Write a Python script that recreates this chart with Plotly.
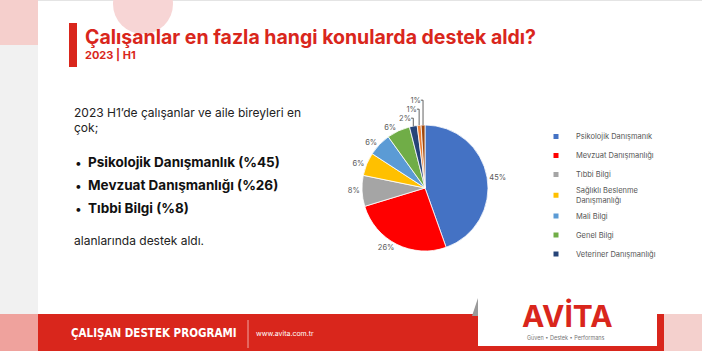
import plotly.graph_objects as go

# ---- data ----
categories = ["Psikolojik Danışmanık", "Mevzuat Danışmanlığı", "Tıbbi Bilgi",
              "Sağlıklı Beslenme Danışmanlığı", "Mali Bilgi", "Genel Bilgi",
              "Veteriner Danışmanlığı", "Diğer A", "Diğer B"]
values = [45, 26, 8, 6, 6, 6, 2, 1, 1]
colors = ["#4472C4", "#FF0000", "#A5A5A5", "#FFC000", "#5B9BD5", "#70AD47",
          "#264478", "#ED7D31", "#9E480E"]
legend_labels = ["Psikolojik Danışmanık", "Mevzuat Danışmanlığı", "Tıbbi Bilgi",
                 "Sağlıklı Beslenme<br>Danışmanlığı", "Mali Bilgi", "Genel Bilgi",
                 "Veteriner Danışmanlığı"]

W, H = 702, 351
RED = "#D9261C"
FONT = "Inter, Roboto, sans-serif"
COND = "DejaVu Sans Condensed, Liberation Sans Narrow, Liberation Sans, sans-serif"


def px(x):
    return x / W


def py(y):
    return 1 - y / H


fig = go.Figure()

# pie
cx, cy, r = 425, 188, 63
fig.add_trace(go.Pie(
    labels=categories, values=values, sort=False, direction="clockwise", rotation=0,
    marker=dict(colors=colors, line=dict(color="white", width=0.8)),
    text=[f"{v}%" for v in values], textinfo="text", textposition="outside",
    outsidetextfont=dict(size=7.5, color="#595959", family=FONT),
    domain=dict(x=[px(cx - r), px(cx + r)], y=[py(cy + r), py(cy - r)]),
    showlegend=False, hoverinfo="label+percent",
))

# legend entries (first seven categories)
for i, lab in enumerate(legend_labels):
    fig.add_trace(go.Scatter(
        x=[None], y=[None], mode="markers", name=lab, legendgroup=f"g{i}",
        marker=dict(symbol="square", size=5, color=colors[i]),
    ))

shapes = []
annotations = []

# slide surroundings
shapes.append(dict(type="rect", xref="paper", yref="paper", x0=0, x1=px(38), y0=0, y1=1,
                   fillcolor="#F1F1F1", line_width=0, layer="below"))
shapes.append(dict(type="rect", xref="paper", yref="paper", x0=0, x1=px(38), y0=py(45), y1=1,
                   fillcolor="#F5CFCC", line_width=0, layer="below"))
shapes.append(dict(type="rect", xref="paper", yref="paper", x0=0, x1=px(38), y0=0, y1=py(314),
                   fillcolor="#EFA29D", line_width=0, layer="below"))
shapes.append(dict(type="rect", xref="paper", yref="paper", x0=px(38), x1=1, y0=py(1), y1=1,
                   fillcolor="#E4E4E4", line_width=0, layer="below"))
# pink circle
shapes.append(dict(type="circle", xref="paper", yref="paper", x0=px(113), x1=px(173),
                   y0=py(34), y1=py(-26), fillcolor="#F7D5D5", line_width=0, layer="below"))
# title bar
shapes.append(dict(type="rect", xref="paper", yref="paper", x0=px(69), x1=px(77),
                   y0=py(67), y1=py(23), fillcolor=RED, line_width=0))

annotations.append(dict(text="<b>Çalışanlar en fazla hangi konularda destek aldı?</b>",
                        x=px(83), y=py(37), xref="paper", yref="paper", xanchor="left",
                        yanchor="middle", showarrow=False,
                        font=dict(family=FONT, size=19.5, color=RED)))
annotations.append(dict(text="<b>2023 | H1</b>",
                        x=px(83), y=py(55), xref="paper", yref="paper", xanchor="left",
                        yanchor="middle", showarrow=False,
                        font=dict(family=FONT, size=11, color=RED)))

# left text
annotations.append(dict(text="2023 H1’de çalışanlar ve aile bireyleri en",
                        x=px(72), y=py(112), xref="paper", yref="paper", xanchor="left",
                        yanchor="middle", showarrow=False,
                        font=dict(family=FONT, size=12, color="#222222")))
annotations.append(dict(text="çok;",
                        x=px(72), y=py(127), xref="paper", yref="paper", xanchor="left",
                        yanchor="middle", showarrow=False,
                        font=dict(family=FONT, size=12, color="#222222")))
bullets = ["Psikolojik Danışmanlık (%45)", "Mevzuat Danışmanlığı (%26)", "Tıbbi Bilgi (%8)"]
for i, b in enumerate(bullets):
    yy = [162, 185, 208][i]
    annotations.append(dict(text="•", x=px(73), y=py(yy), xref="paper", yref="paper",
                            xanchor="left", yanchor="middle", showarrow=False,
                            font=dict(family=FONT, size=12, color="#111111")))
    annotations.append(dict(text=f"<b>{b}</b>", x=px(86), y=py(yy), xref="paper", yref="paper",
                            xanchor="left", yanchor="middle", showarrow=False,
                            font=dict(family=FONT, size=13.5, color="#111111")))
annotations.append(dict(text="alanlarında destek aldı.",
                        x=px(72), y=py(240), xref="paper", yref="paper", xanchor="left",
                        yanchor="middle", showarrow=False,
                        font=dict(family=FONT, size=12, color="#222222")))

# footer
shapes.append(dict(type="rect", xref="paper", yref="paper", x0=px(38), x1=px(664),
                   y0=0, y1=py(314), fillcolor=RED, line_width=0))
shapes.append(dict(type="rect", xref="paper", yref="paper", x0=px(664), x1=1,
                   y0=0, y1=py(314), fillcolor="#F4D0CD", line_width=0))
shapes.append(dict(type="line", xref="paper", yref="paper", x0=px(248), x1=px(248),
                   y0=py(348), y1=py(320), line=dict(color="rgba(255,255,255,0.6)", width=1)))
shapes.append(dict(type="path", xref="paper", yref="paper",
                   path=f"M {px(472)} {py(316)} L {px(478)} {py(298)} L {px(478)} {py(316)} Z",
                   fillcolor="#9A9A9A", line_width=0))
shapes.append(dict(type="rect", xref="paper", yref="paper", x0=px(478), x1=px(657),
                   y0=py(346), y1=py(298), fillcolor="white", line_width=0))
annotations.append(dict(text="<b>ÇALIŞAN DESTEK PROGRAMI</b>",
                        x=px(69), y=py(333), xref="paper", yref="paper", xanchor="left",
                        yanchor="middle", showarrow=False,
                        font=dict(family=COND, size=11.5, color="white")))
annotations.append(dict(text="www.avita.com.tr",
                        x=px(254), y=py(333), xref="paper", yref="paper", xanchor="left",
                        yanchor="middle", showarrow=False,
                        font=dict(family=FONT, size=7, color="white")))
annotations.append(dict(text="<b>AVİTA</b>",
                        x=px(567), y=py(316), xref="paper", yref="paper", xanchor="center",
                        yanchor="middle", showarrow=False,
                        font=dict(family=FONT, size=30, color=RED)))
annotations.append(dict(text="Güven • Destek • Performans",
                        x=px(566), y=py(337), xref="paper", yref="paper", xanchor="center",
                        yanchor="middle", showarrow=False,
                        font=dict(family=FONT, size=5.5, color="#777777")))

fig.update_layout(
    width=W, height=H, margin=dict(l=0, r=0, t=0, b=0),
    paper_bgcolor="white", plot_bgcolor="rgba(0,0,0,0)",
    xaxis=dict(visible=False, domain=[0, 0.01]), yaxis=dict(visible=False, domain=[0, 0.01]),
    shapes=shapes, annotations=annotations,
    legend=dict(x=px(536), y=py(122), xanchor="left", yanchor="top",
                font=dict(family=FONT, size=7.5, color="#555555"),
                tracegroupgap=0, itemwidth=30, bgcolor="rgba(0,0,0,0)"),
)

fig.write_html("out.html")
